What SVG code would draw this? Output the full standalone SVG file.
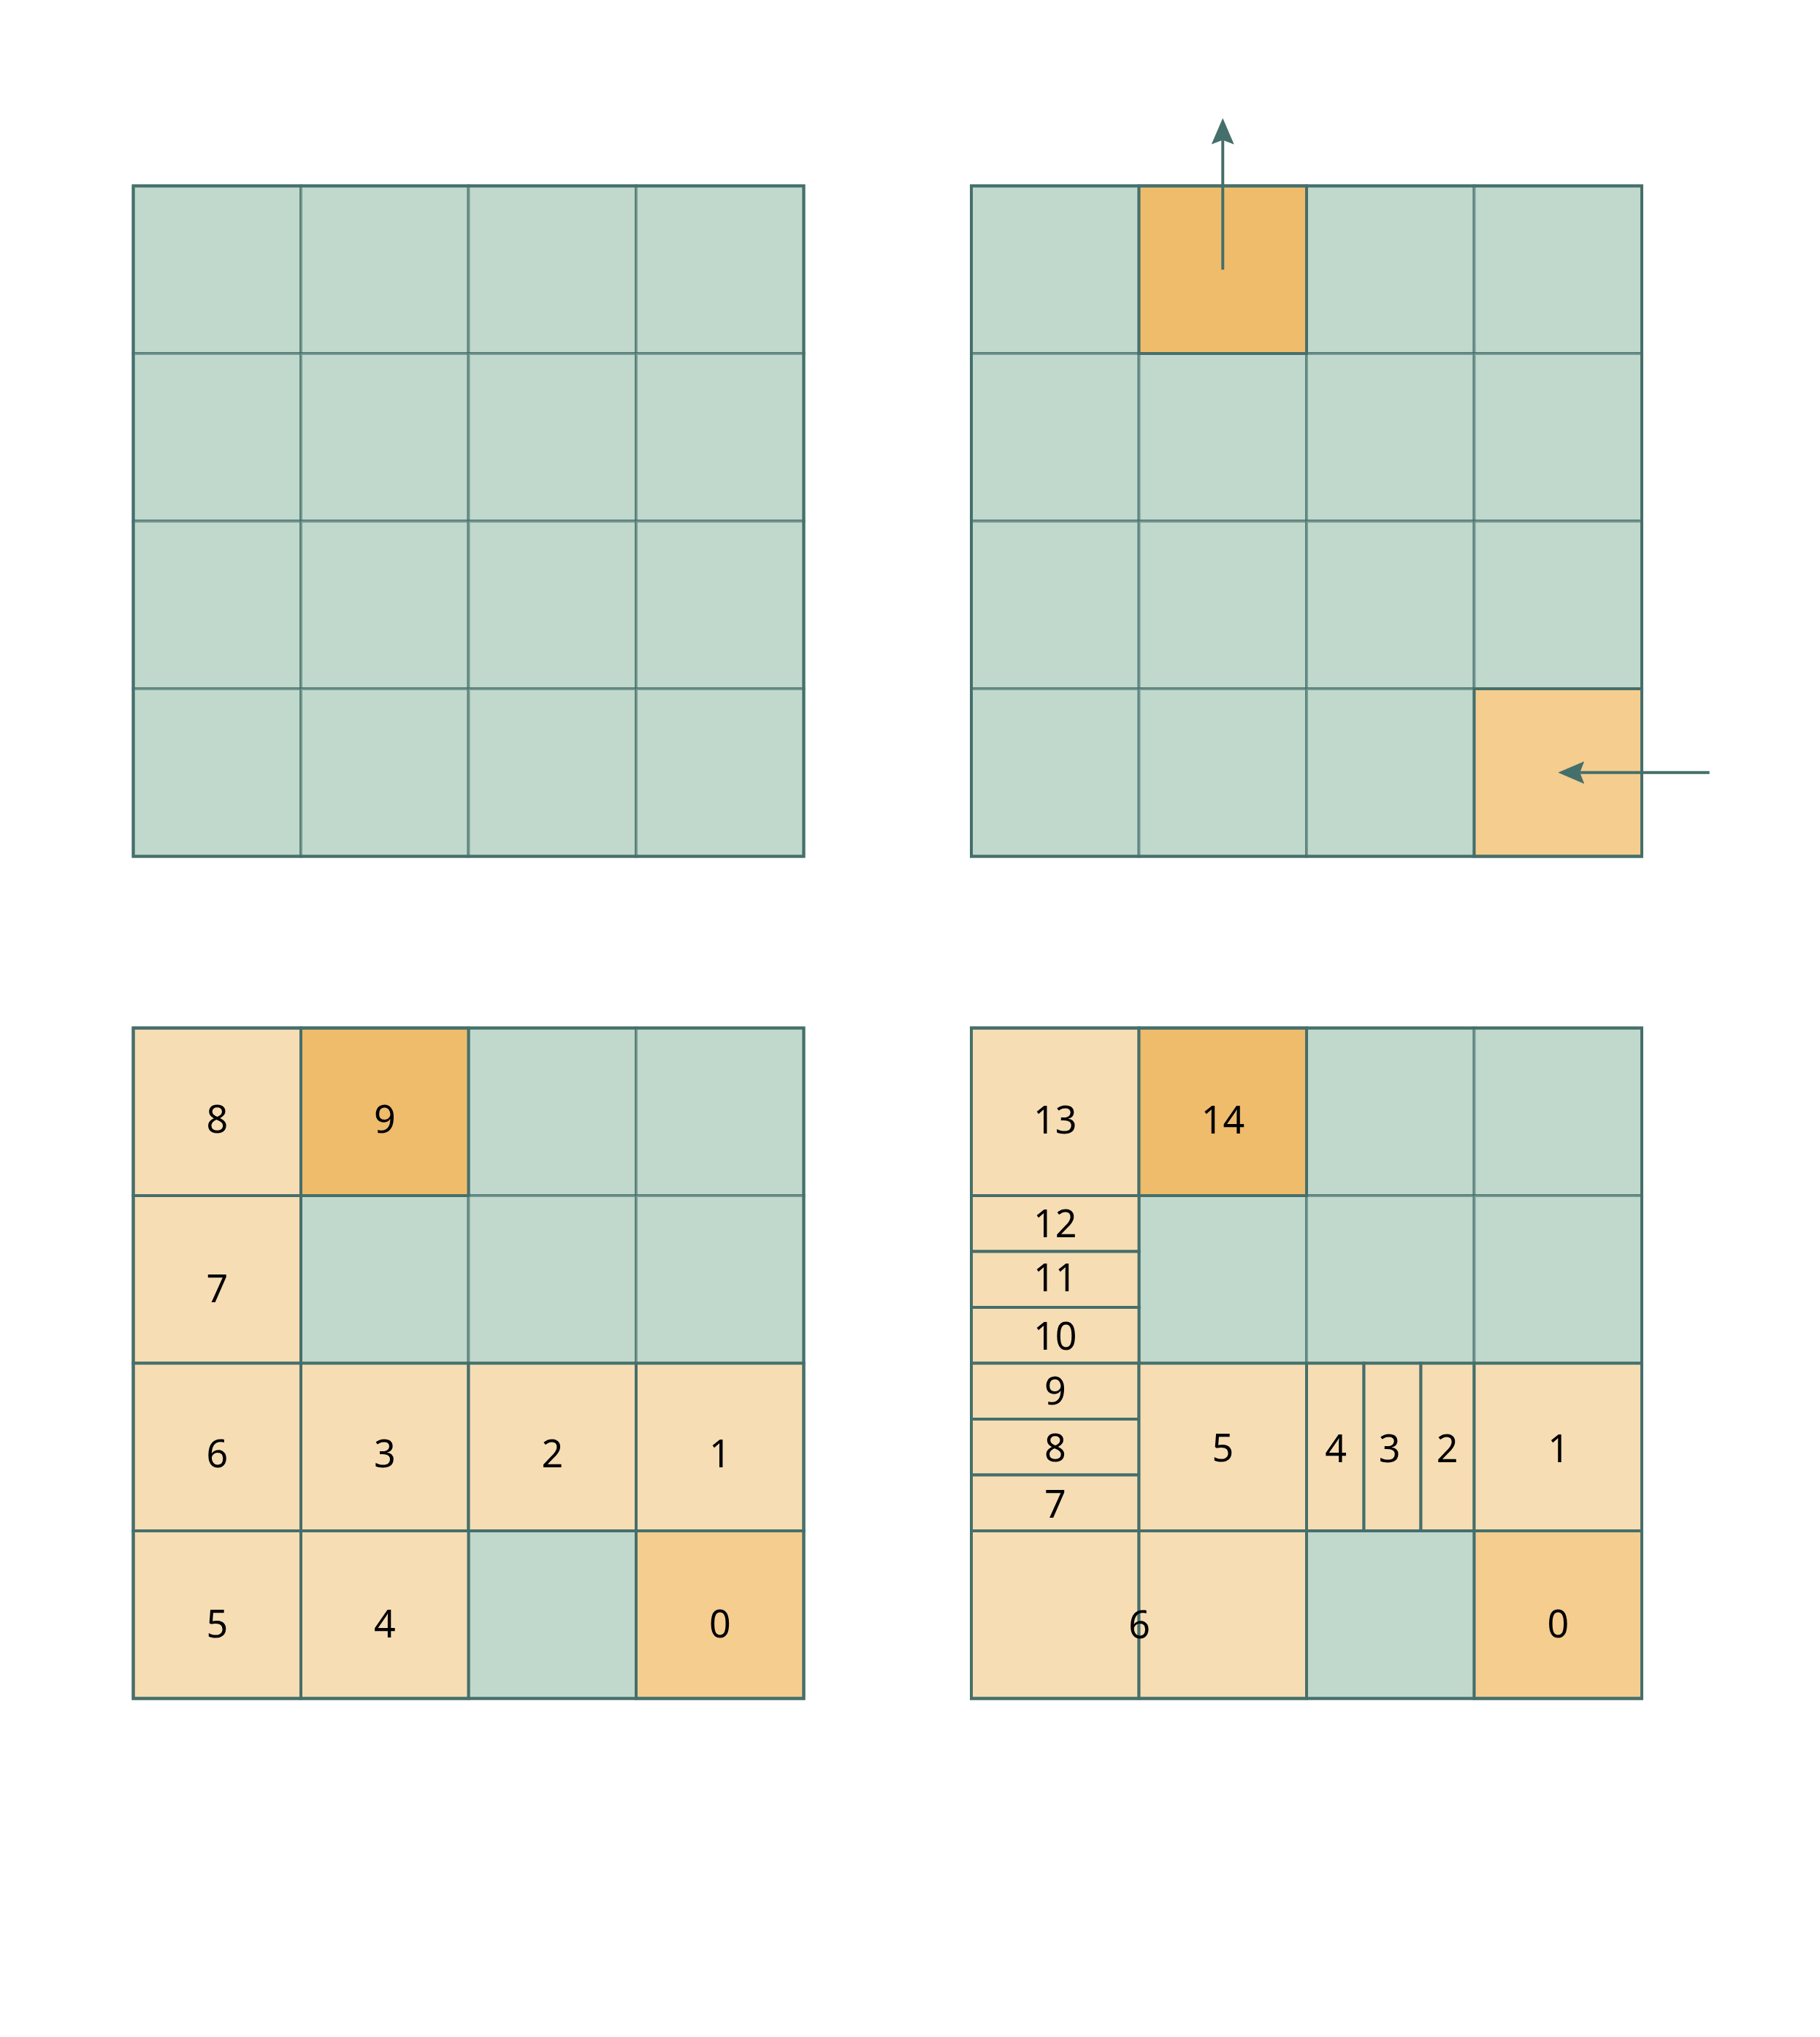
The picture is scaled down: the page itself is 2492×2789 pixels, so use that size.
<svg xmlns="http://www.w3.org/2000/svg" width="2492" height="2789" viewBox="0 0 2492 2789">
<style>
.g{fill:#C1D8CC;stroke:#456F6B;stroke-opacity:0.6;stroke-width:4}
.lo{fill:#F7DDB4;stroke:#456F6B;stroke-width:4}
.ho{fill:#EFBC6C;stroke:#456F6B;stroke-width:4}
.mo{fill:#F5CD8F;stroke:#456F6B;stroke-width:4}
.fr{fill:none;stroke:#456F6B;stroke-width:4}
.t{font-family:"Noto Sans","Open Sans",sans-serif;font-size:52px;fill:#000;text-anchor:middle}
.ar{fill:none;stroke:#456F6B;stroke-width:4;marker-end:url(#ah)}
</style>
<defs>
<marker id="ah" viewBox="0 0 36 31" refX="6" refY="15.5" markerWidth="36" markerHeight="31" markerUnits="userSpaceOnUse" orient="auto">
<path d="M0,0 L36,15.5 L0,31 L6,15.5 Z" fill="#456F6B"/>
</marker>
</defs>
<rect width="2492" height="2789" fill="#FFFFFF"/>

<g id="grid-top-left">
<rect class="g" x="182.5" y="254.5" width="229.5" height="229.5"/>
<rect class="g" x="412" y="254.5" width="229.5" height="229.5"/>
<rect class="g" x="641.5" y="254.5" width="229.5" height="229.5"/>
<rect class="g" x="871" y="254.5" width="229.5" height="229.5"/>
<rect class="g" x="182.5" y="484" width="229.5" height="229.5"/>
<rect class="g" x="412" y="484" width="229.5" height="229.5"/>
<rect class="g" x="641.5" y="484" width="229.5" height="229.5"/>
<rect class="g" x="871" y="484" width="229.5" height="229.5"/>
<rect class="g" x="182.5" y="713.5" width="229.5" height="229.5"/>
<rect class="g" x="412" y="713.5" width="229.5" height="229.5"/>
<rect class="g" x="641.5" y="713.5" width="229.5" height="229.5"/>
<rect class="g" x="871" y="713.5" width="229.5" height="229.5"/>
<rect class="g" x="182.5" y="943" width="229.5" height="229.5"/>
<rect class="g" x="412" y="943" width="229.5" height="229.5"/>
<rect class="g" x="641.5" y="943" width="229.5" height="229.5"/>
<rect class="g" x="871" y="943" width="229.5" height="229.5"/>
<rect class="fr" x="182.5" y="254.5" width="918" height="918"/>
</g>

<g id="grid-top-right">
<rect class="g" x="1330" y="254.5" width="229.5" height="229.5"/>
<rect class="g" x="1789" y="254.5" width="229.5" height="229.5"/>
<rect class="g" x="2018.5" y="254.5" width="229.5" height="229.5"/>
<rect class="g" x="1330" y="484" width="229.5" height="229.5"/>
<rect class="g" x="1559.5" y="484" width="229.5" height="229.5"/>
<rect class="g" x="1789" y="484" width="229.5" height="229.5"/>
<rect class="g" x="2018.5" y="484" width="229.5" height="229.5"/>
<rect class="g" x="1330" y="713.5" width="229.5" height="229.5"/>
<rect class="g" x="1559.5" y="713.5" width="229.5" height="229.5"/>
<rect class="g" x="1789" y="713.5" width="229.5" height="229.5"/>
<rect class="g" x="2018.5" y="713.5" width="229.5" height="229.5"/>
<rect class="g" x="1330" y="943" width="229.5" height="229.5"/>
<rect class="g" x="1559.5" y="943" width="229.5" height="229.5"/>
<rect class="g" x="1789" y="943" width="229.5" height="229.5"/>
<rect id="tr-exit" class="ho" x="1559.5" y="254.5" width="229.5" height="229.5"/>
<rect id="tr-entry" class="mo" x="2018.5" y="943" width="229.5" height="229.5"/>
<rect class="fr" x="1330" y="254.5" width="918" height="918"/>
</g>

<g id="grid-bottom-left">
<rect class="g" x="641.5" y="1407.5" width="229.5" height="229.5"/>
<rect class="g" x="871" y="1407.5" width="229.5" height="229.5"/>
<rect class="g" x="412" y="1637" width="229.5" height="229.5"/>
<rect class="g" x="641.5" y="1637" width="229.5" height="229.5"/>
<rect class="g" x="871" y="1637" width="229.5" height="229.5"/>
<rect class="g" x="641.5" y="2096" width="229.5" height="229.5"/>
<g id="bl-8"><rect class="lo" x="182.5" y="1407.5" width="229.5" height="229.5"/><text class="t" x="297.25" y="1551.3">8</text></g>
<g id="bl-9"><rect class="ho" x="412" y="1407.5" width="229.5" height="229.5"/><text class="t" x="526.75" y="1551.3">9</text></g>
<g id="bl-7"><rect class="lo" x="182.5" y="1637" width="229.5" height="229.5"/><text class="t" x="297.25" y="1783">7</text></g>
<g id="bl-6"><rect class="lo" x="182.5" y="1866.5" width="229.5" height="229.5"/><text class="t" x="297.25" y="2009.3">6</text></g>
<g id="bl-3"><rect class="lo" x="412" y="1866.5" width="229.5" height="229.5"/><text class="t" x="526.75" y="2009.3">3</text></g>
<g id="bl-2"><rect class="lo" x="641.5" y="1866.5" width="229.5" height="229.5"/><text class="t" x="756.25" y="2009.3">2</text></g>
<g id="bl-1"><rect class="lo" x="871" y="1866.5" width="229.5" height="229.5"/><text class="t" x="985.75" y="2009.3">1</text></g>
<g id="bl-5"><rect class="lo" x="182.5" y="2096" width="229.5" height="229.5"/><text class="t" x="297.25" y="2242.3">5</text></g>
<g id="bl-4"><rect class="lo" x="412" y="2096" width="229.5" height="229.5"/><text class="t" x="526.75" y="2242.3">4</text></g>
<g id="bl-0"><rect class="mo" x="871" y="2096" width="229.5" height="229.5"/><text class="t" x="985.75" y="2242.3">0</text></g>
<rect class="fr" x="182.5" y="1407.5" width="918" height="918"/>
</g>

<g id="grid-bottom-right">
<rect class="g" x="1789" y="1407.5" width="229.5" height="229.5"/>
<rect class="g" x="2018.5" y="1407.5" width="229.5" height="229.5"/>
<rect class="g" x="1559.5" y="1637" width="229.5" height="229.5"/>
<rect class="g" x="1789" y="1637" width="229.5" height="229.5"/>
<rect class="g" x="2018.5" y="1637" width="229.5" height="229.5"/>
<rect class="g" x="1789" y="2096" width="229.5" height="229.5"/>
<g id="br-13"><rect class="lo" x="1330" y="1407.5" width="229.5" height="229.5"/><text class="t" x="1444.75" y="1551.5">13</text></g>
<g id="br-14"><rect class="ho" x="1559.5" y="1407.5" width="229.5" height="229.5"/><text class="t" x="1674.5" y="1551.5">14</text></g>
<g id="br-12"><rect class="lo" x="1330" y="1637" width="229.5" height="76.5"/><text class="t" x="1444.75" y="1694.3">12</text></g>
<g id="br-11"><rect class="lo" x="1330" y="1713.5" width="229.5" height="76.5"/><text class="t" x="1444.75" y="1767.7">11</text></g>
<g id="br-10"><rect class="lo" x="1330" y="1790" width="229.5" height="76.5"/><text class="t" x="1444.75" y="1847.7">10</text></g>
<g id="br-9"><rect class="lo" x="1330" y="1866.5" width="229.5" height="76.5"/><text class="t" x="1444.75" y="1923">9</text></g>
<g id="br-8"><rect class="lo" x="1330" y="1943" width="229.5" height="76.5"/><text class="t" x="1444.75" y="2001">8</text></g>
<g id="br-7"><rect class="lo" x="1330" y="2019.5" width="229.5" height="76.5"/><text class="t" x="1444.75" y="2077.7">7</text></g>
<g id="br-5"><rect class="lo" x="1559.5" y="1866.5" width="229.5" height="229.5"/><text class="t" x="1674.25" y="2001.3">5</text></g>
<g id="br-4"><rect class="lo" x="1789" y="1866.5" width="78.5" height="229.5"/><text class="t" x="1829" y="2001.7">4</text></g>
<g id="br-3"><rect class="lo" x="1867.5" y="1866.5" width="78" height="229.5"/><text class="t" x="1902.7" y="2001.7">3</text></g>
<g id="br-2"><rect class="lo" x="1945.5" y="1866.5" width="73" height="229.5"/><text class="t" x="1981.7" y="2001.7">2</text></g>
<g id="br-1"><rect class="lo" x="2018.5" y="1866.5" width="229.5" height="229.5"/><text class="t" x="2134" y="2001.7">1</text></g>
<g id="br-6"><rect class="lo" x="1330" y="2096" width="229.5" height="229.5"/><rect class="lo" x="1559.5" y="2096" width="229.5" height="229.5"/><text class="t" x="1560" y="2243">6</text></g>
<g id="br-0"><rect class="mo" x="2018.5" y="2096" width="229.5" height="229.5"/><text class="t" x="2133.25" y="2242.3">0</text></g>
<rect class="fr" x="1330" y="1407.5" width="918" height="918"/>
</g>

<g id="connectors">
<path id="arrow-up" class="ar" d="M1674.25,369.3 L1674.25,191.7"/>
<path id="arrow-left" class="ar" d="M2340.7,1057.75 L2163.3,1057.75"/>
</g>
</svg>
